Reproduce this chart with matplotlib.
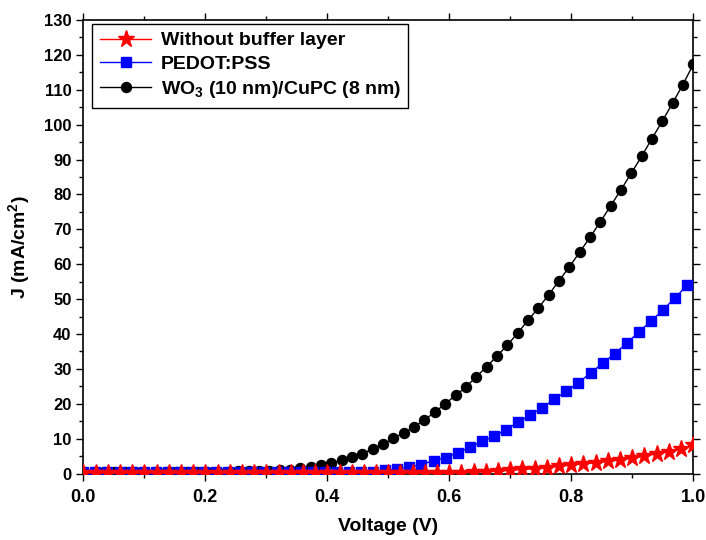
import numpy as np
import matplotlib
matplotlib.use('Agg')
import matplotlib.pyplot as plt
from matplotlib.ticker import MultipleLocator, FormatStrFormatter

plt.rcParams['font.family'] = ['Liberation Sans', 'DejaVu Sans']
plt.rcParams['font.weight'] = 'bold'
plt.rcParams['mathtext.fontset'] = 'custom'
plt.rcParams['mathtext.rm'] = 'Liberation Sans:bold'
plt.rcParams['mathtext.bf'] = 'Liberation Sans:bold'

# Without buffer layer (red stars), 0.02 V step
red_v = np.linspace(0, 1.0, 51)
red_j = [0.2] * 31 + [0.3, 0.4, 0.5, 0.7, 0.9, 1.2, 1.4, 1.7, 2.1, 2.4,
                      2.8, 3.1, 3.5, 3.9, 4.4, 5.0, 5.7, 6.3, 7.1, 8.2]

# PEDOT:PSS (blue squares)
blue_v = np.linspace(0, 0.99, 51)
blue_j = [0.5] * 25 + [0.9, 1.4, 1.8, 2.6, 3.7, 4.6, 6.0, 7.5, 9.2, 10.7,
                       12.6, 14.7, 16.7, 18.9, 21.3, 23.6, 26.1, 28.8, 31.6,
                       34.4, 37.4, 40.6, 43.7, 46.9, 50.4, 54.0]

# WO3 (10 nm)/CuPC (8 nm) (black circles)
black_v = np.linspace(0, 1.0, 60)
black_j = [0.5] * 15 + [0.6, 0.6, 0.7, 0.8, 0.9, 1.1, 1.5, 1.9, 2.5, 3.0,
                        3.8, 4.7, 5.7, 7.1, 8.4, 10.1, 11.7, 13.4, 15.4,
                        17.6, 20.0, 22.4, 24.8, 27.7, 30.6, 33.6, 36.8,
                        40.2, 43.9, 47.4, 51.2, 55.2, 59.2, 63.4, 67.7,
                        72.1, 76.7, 81.3, 86.1, 90.9, 96.0, 101.0, 106.2,
                        111.5, 117.3]

labels = ['Without buffer layer', 'PEDOT:PSS', 'WO$_\\mathbf{3}$ (10 nm)/CuPC (8 nm)']

fig = plt.figure(figsize=(7.06, 5.40), dpi=100)
ax = fig.add_axes([0.118, 0.123, 0.864, 0.840])

l3, = ax.plot(black_v, black_j, color='black', lw=1.0, marker='o', ms=7.2,
              label=labels[2], zorder=3)
l2, = ax.plot(blue_v, blue_j, color='#0000ff', lw=1.0, marker='s', ms=6.5,
              label=labels[1], zorder=4)
l1, = ax.plot(red_v, red_j, color='#ff0000', lw=1.0, marker='*', ms=12.5,
              label=labels[0], zorder=5)

ax.set_xlim(0, 1.0)
ax.set_ylim(0, 130)
ax.xaxis.set_major_locator(MultipleLocator(0.2))
ax.xaxis.set_minor_locator(MultipleLocator(0.1))
ax.yaxis.set_major_locator(MultipleLocator(10))
ax.yaxis.set_minor_locator(MultipleLocator(5))
ax.xaxis.set_major_formatter(FormatStrFormatter('%.1f'))

ax.tick_params(which='both', direction='out', top=True, right=True, width=1)
ax.tick_params(which='major', length=5)
ax.tick_params(which='minor', length=3)
ax.tick_params(axis='x', labelsize=13, pad=6)
ax.tick_params(axis='y', labelsize=12)
for s in ax.spines.values():
    s.set_linewidth(1.2)

ax.set_xlabel('Voltage (V)', fontsize=14, fontweight='bold', labelpad=9)
ax.set_ylabel('J (mA/cm$^\\mathbf{2}$)', fontsize=14, fontweight='bold', labelpad=8)

leg = ax.legend(handles=[l1, l2, l3], loc='upper left', bbox_to_anchor=(0.015, 0.991),
                borderaxespad=0, fancybox=False, framealpha=1, edgecolor='black',
                prop={'size': 14, 'weight': 'bold'}, handlelength=2.6,
                labelspacing=0.3, borderpad=0.4, handletextpad=0.5)
leg.get_frame().set_linewidth(1.0)

fig.savefig('out.png', dpi=100)
